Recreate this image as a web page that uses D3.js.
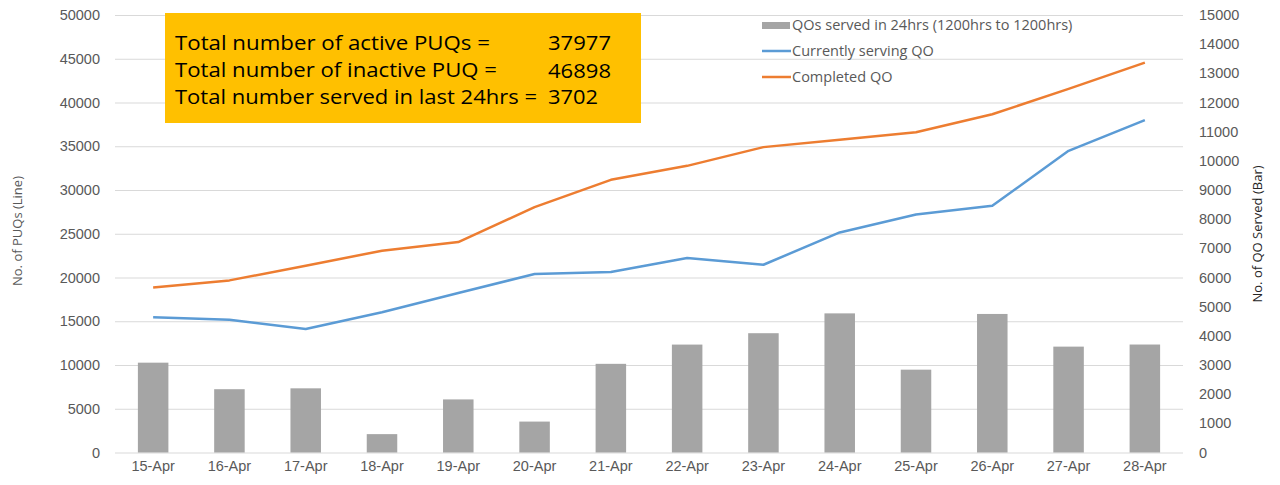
<!DOCTYPE html>
<html lang="en">
<head>
<meta charset="UTF-8">
<title>PUQ / QO chart</title>
<style>
  html, body { margin: 0; padding: 0; background: #fff; }
  svg { display: block; font-family: "Open Sans", "Liberation Sans", sans-serif; }
</style>
</head>
<body>
<svg id="svg" width="1280" height="485"></svg>
<script src="https://d3js.org/d3.v7.min.js"></script>
<script>
  // data
  const days = ['15-Apr', '16-Apr', '17-Apr', '18-Apr', '19-Apr', '20-Apr', '21-Apr',
    '22-Apr', '23-Apr', '24-Apr', '25-Apr', '26-Apr', '27-Apr', '28-Apr']
  const servedBar = [3080, 2170, 2200, 630, 1820, 1060, 3040, 3700, 4090, 4770, 2840, 4750, 3630, 3702]
  const servingLine = [15450, 15180, 14120, 16020, 18230, 20400, 20630, 22220, 21460, 25150, 27200, 28200, 34480, 37977]
  const completedLine = [18870, 19670, 21350, 23060, 24050, 28050, 31160, 32760, 34900, 35730, 36600, 38660, 41550, 44550]
  const leftTicks = d3.range(0, 50001, 5000)
  const rightTicks = d3.range(0, 15001, 1000)
  const boxLabels = ['Total number of active PUQs =', 'Total number of inactive PUQ =', 'Total number served in last 24hrs =']
  const boxValues = ['37977', '46898', '3702']
  const legendLabels = ['QOs served in 24hrs (1200hrs to 1200hrs)', 'Currently serving QO', 'Completed QO']

  const margin = { top: 15, right: 97, bottom: 32, left: 115 }
  const W = 1280, H = 485
  const svg = d3.select('#svg')
  const textColor = '#595959'
  const fs = '14.5px'

  const x = d3.scaleBand().domain(days).range([margin.left, W - margin.right]).paddingInner(0.6).paddingOuter(0.3)
  const xc = d => x(d) + x.bandwidth() / 2
  const yL = d3.scaleLinear().domain([0, 50000]).range([H - margin.bottom - 0.5, margin.top])
  const yR = d3.scaleLinear().domain([0, 15000]).range([H - margin.bottom - 0.5, margin.top])

  // gridlines
  svg.append('g')
    .attr('transform', `translate(${margin.left},0)`)
    .call(d3.axisLeft(yL).tickValues(leftTicks).tickSize(-(W - margin.left - margin.right)).tickFormat(''))
    .call(g => g.select('.domain').remove())
    .call(g => g.selectAll('line').attr('stroke', '#d9d9d9').attr('stroke-width', 1.2))

  // left axis labels
  svg.append('g')
    .attr('transform', `translate(${margin.left},0)`)
    .call(d3.axisLeft(yL).tickValues(leftTicks).tickSize(0).tickPadding(15).tickFormat(d3.format('d')))
    .call(g => g.select('.domain').remove())
    .call(g => g.selectAll('text').attr('fill', textColor).style('font-size', fs))

  // right axis labels
  svg.append('g')
    .attr('transform', `translate(${W - margin.right},0)`)
    .call(d3.axisRight(yR).tickValues(rightTicks).tickSize(0).tickPadding(16).tickFormat(d3.format('d')))
    .call(g => g.select('.domain').remove())
    .call(g => g.selectAll('text').attr('fill', textColor).style('font-size', fs))

  // bottom axis labels
  svg.append('g')
    .attr('transform', `translate(0,${H - margin.bottom})`)
    .call(d3.axisBottom(x).tickSize(0).tickPadding(8))
    .call(g => g.select('.domain').remove())
    .call(g => g.selectAll('text').attr('fill', textColor).style('font-size', fs))

  // bars
  svg.append('g')
    .selectAll('rect')
    .data(days)
    .join('rect')
    .attr('x', d => x(d))
    .attr('width', x.bandwidth())
    .attr('y', (d, i) => yR(servedBar[i]))
    .attr('height', (d, i) => yR(0) - yR(servedBar[i]))
    .attr('fill', '#a5a5a5')

  // lines
  const lineL = d3.line().x((d, i) => xc(days[i])).y(d => yL(d))
  svg.append('path').datum(servingLine).attr('d', lineL)
    .attr('fill', 'none').attr('stroke', '#5b9bd5').attr('stroke-width', 2.5).attr('stroke-linejoin', 'round')
  svg.append('path').datum(completedLine).attr('d', lineL)
    .attr('fill', 'none').attr('stroke', '#ed7d31').attr('stroke-width', 2.5).attr('stroke-linejoin', 'round')

  // axis titles
  svg.append('text')
    .attr('transform', 'translate(22,231) rotate(-90)')
    .attr('text-anchor', 'middle')
    .attr('fill', textColor)
    .style('font-size', '13px')
    .text('No. of PUQs (Line)')
  svg.append('text')
    .attr('transform', 'translate(1262,234) rotate(-90)')
    .attr('text-anchor', 'middle')
    .attr('fill', '#262626')
    .style('font-size', '13px')
    .text('No. of QO Served (Bar)')

  // legend
  const legend = svg.append('g').attr('transform', 'translate(762,25)')
  legendLabels.forEach((lab, i) => {
    const row = legend.append('g').attr('transform', `translate(0,${i * 26})`)
    if (i === 0) {
      row.append('rect').attr('x', 0).attr('y', -3).attr('width', 28).attr('height', 7).attr('fill', '#a5a5a5')
    } else {
      row.append('line').attr('x1', 0).attr('x2', 29).attr('y1', 0).attr('y2', 0)
        .attr('stroke', i === 1 ? '#5b9bd5' : '#ed7d31').attr('stroke-width', 2.5)
    }
    row.append('text').attr('x', 30).attr('y', 0).attr('dy', '0.35em')
      .attr('fill', textColor).style('font-size', fs).text(lab)
  })

  // annotation box (text stretched a little to match the wide original lettering)
  const labelWidths = [315, 322, 362]
  const valueWidths = [63, 63, 50]
  const box = svg.append('g').attr('transform', 'translate(165,13)')
  box.append('rect').attr('width', 476).attr('height', 110).attr('fill', '#ffc000')
  boxLabels.forEach((lab, i) => {
    box.append('text').attr('x', 10).attr('y', 30 + i * 27).attr('dy', '0.35em')
      .attr('textLength', labelWidths[i]).attr('lengthAdjust', 'spacingAndGlyphs')
      .attr('fill', '#000').style('font-size', '19.5px').text(lab)
    box.append('text').attr('x', 383).attr('y', 30 + i * 27 + (i === 1 ? 1 : 0)).attr('dy', '0.35em')
      .attr('textLength', valueWidths[i]).attr('lengthAdjust', 'spacingAndGlyphs')
      .attr('fill', '#000').style('font-size', '19.5px').text(boxValues[i])
  })
</script>
</body>
</html>
